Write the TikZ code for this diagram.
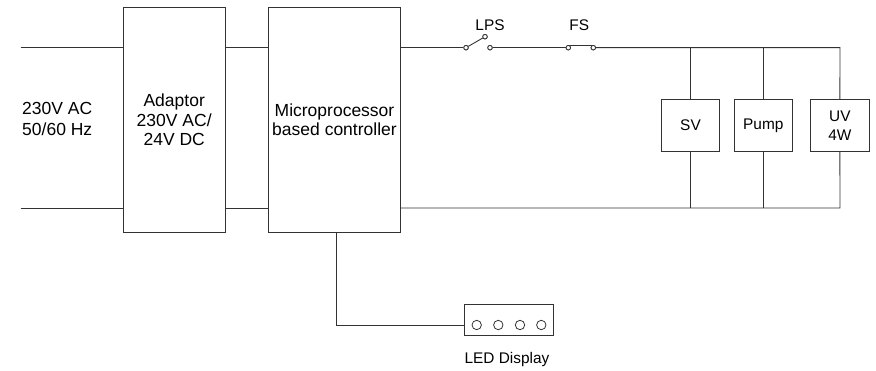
\documentclass[tikz,border=0pt]{standalone}
\usepackage{fontspec}
\setmainfont{Liberation Sans}
\begin{document}
\begin{tikzpicture}[x=1pt,y=-1pt,
  wire/.style={draw=black!80,line width=0.9pt},
  bigbox/.style={draw=black!80,line width=0.9pt,inner sep=0pt,align=center,font=\fontsize{17.5}{19.5}\selectfont},
  smallbox/.style={draw=black!80,line width=0.9pt,inner sep=0pt,align=center,minimum width=58.3pt,minimum height=52.4pt,font=\fontsize{15.4}{19}\selectfont},
  contact/.style={circle,draw=black!80,line width=0.8pt,fill=white,inner sep=0pt,minimum size=4.5pt},
  lamp/.style={circle,draw=black!80,line width=0.8pt,inner sep=0pt,minimum size=9.4pt},
  lbl/.style={inner sep=0pt,font=\fontsize{15.4}{19}\selectfont}]
\useasboundingbox (0,0) rectangle (876,371);
% blocks
\node[bigbox,minimum width=102.3pt,minimum height=225pt] (adaptor) at (174.2,119.8) {Adaptor\\230V AC/\\24V DC};
\node[bigbox,minimum width=132.4pt,minimum height=225pt] (micro) at (334.5,119.8) {Microprocessor\\based controller};
\node[smallbox] (sv) at (690.5,125.5) {SV};
\node[smallbox] (pump) at (763.3,125.5) {Pump};
\node[smallbox] (uv) at (839.9,125.5) {UV\\4W};
\node[draw=black!80,line width=0.9pt,minimum width=89.3pt,minimum height=31pt,inner sep=0pt] (led) at (508.7,319.8) {};
\node[lamp] (l1) at (476.7,325) {};
\node[lamp] (l2) at (498.3,325) {};
\node[lamp] (l3) at (520,325) {};
\node[lamp] (l4) at (541.3,325) {};
% labels
\node[inner sep=0pt,align=left,anchor=west,font=\fontsize{17.5}{21}\selectfont] (src) at (22,118.8) {230V AC\\50/60 Hz};
\node[lbl] (lpsl) at (490,25) {LPS};
\node[lbl] (fsl) at (579.3,25) {FS};
\node[lbl] (ledl) at (507,360) {LED Display};
% coordinates
\coordinate (inT) at (20.7,47.7);
\coordinate (inB) at (20.7,208);
\coordinate (topR) at (840,47.7);
\coordinate (botR) at (840,208);
\coordinate (ledin) at (464,325);
% switches
\node[contact] (lps1) at (466,47.7) {};
\node[contact] (lps2) at (490,47.7) {};
\node[contact] (lps3) at (485,36.7) {};
\node[contact] (fs1) at (568.3,47.7) {};
\node[contact] (fs2) at (593.3,47.7) {};
% wires
\draw[wire] (inT) -- (inT -| adaptor.west);
\draw[wire] (inB) -- (inB -| adaptor.west);
\draw[wire] (adaptor.east |- inT) -- (micro.west |- inT);
\draw[wire] (adaptor.east |- inB) -- (micro.west |- inB);
\draw[wire] (micro.east |- inT) -- (lps1);
\draw[wire] (lps1) -- (lps3);
\draw[wire] (lps2) -- (fs1);
\draw[wire] (fs1.north) -- (fs2.north);
\draw[wire] (fs2) -- (topR) -- (uv.north);
\draw[wire] (micro.east |- inB) -- (botR) -- (uv.south);
\draw[wire] (sv.north) -- (sv.north |- topR);
\draw[wire] (sv.south) -- (sv.south |- botR);
\draw[wire] (pump.north) -- (pump.north |- topR);
\draw[wire] (pump.south) -- (pump.south |- botR);
\draw[wire] ([xshift=2.2pt]micro.south) |- (ledin);
% redraw contacts on top
\node[contact] at (lps1) {};
\node[contact] at (lps2) {};
\node[contact] at (lps3) {};
\node[contact] at (fs1) {};
\node[contact] at (fs2) {};
\end{tikzpicture}
\end{document}
